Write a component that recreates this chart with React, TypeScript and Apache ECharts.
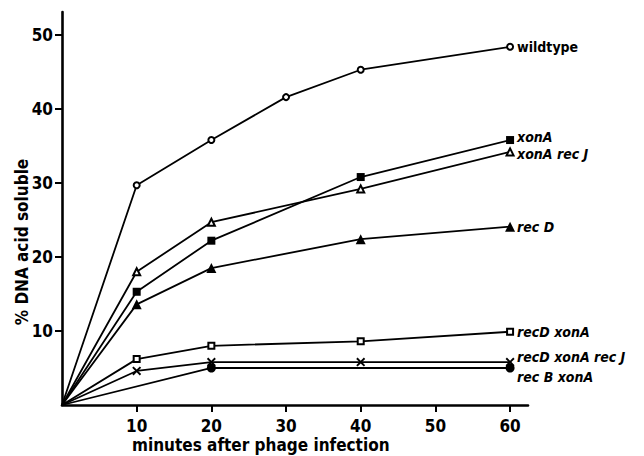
import React, { useEffect, useRef } from "react";
import * as echarts from "echarts";

const seriesNames = ["wildtype", "xonA", "xonA rec J", "rec D", "recD xonA", "recD xonA rec J", "rec B xonA"];
const wildtypeTimes = [0, 10, 20, 30, 40, 60];
const commonTimes = [0, 10, 20, 40, 60];
const recBTimes = [0, 20, 60];
const wildtypeValues = [0, 29.7, 35.8, 41.6, 45.3, 48.4];
const xonAValues = [0, 15.3, 22.2, 30.8, 35.8];
const xonARecJValues = [0, 18.0, 24.7, 29.2, 34.2];
const recDValues = [0, 13.6, 18.5, 22.4, 24.1];
const recDxonAValues = [0, 6.2, 8.0, 8.6, 9.9];
const recDxonARecJValues = [0, 4.6, 5.8, 5.8, 5.8];
const recBxonAValues = [0, 5.0, 5.0];
const xTicks = [10, 20, 30, 40, 50, 60];
const yTicks = [10, 20, 30, 40, 50];

const FONT = "'DejaVu Sans Condensed', 'DejaVu Sans', sans-serif";
const CROSS = "path://M1.5,0 L5,3.5 L8.5,0 L10,1.5 L6.5,5 L10,8.5 L8.5,10 L5,6.5 L1.5,10 L0,8.5 L3.5,5 L0,1.5 Z";

export default function App() {
  const ref = useRef<HTMLDivElement>(null);
  useEffect(() => {
    const chart = echarts.init(ref.current!, null, { renderer: "svg" });
    const mk = (
      name: string,
      times: number[],
      vals: number[],
      symbol: string,
      size: number,
      italic: boolean,
      dy: number
    ) => ({
      name,
      type: "line",
      data: times.map((t, i) =>
        i === 0 ? { value: [t, vals[i]], symbol: "none" } : { value: [t, vals[i]] }
      ),
      symbol,
      symbolSize: size,
      showAllSymbol: true,
      lineStyle: { color: "#000", width: 1.8 },
      itemStyle: { color: "#000", borderWidth: symbol.startsWith("empty") ? 1.8 : 0 },
      endLabel: {
        show: true,
        formatter: name,
        color: "#000",
        fontFamily: FONT,
        fontSize: 14,
        fontStyle: italic ? "italic" : "normal",
        fontWeight: "bold",
        distance: 7,
        offset: [0, dy],
      },
      emphasis: { disabled: true },
      z: 3,
    });
    chart.setOption({
      animation: false,
      backgroundColor: "#fff",
      grid: { left: 62, right: 116, top: 12, bottom: 51, containLabel: false, outerBoundsMode: "none" },
      xAxis: {
        type: "value",
        min: 0,
        max: 62.4,
        interval: 10,
        splitLine: { show: false },
        axisLine: { lineStyle: { color: "#000", width: 2.6 } },
        axisTick: { show: true, length: 7, customValues: xTicks, lineStyle: { color: "#000", width: 2 } },
        axisLabel: {
          customValues: xTicks,
          color: "#000",
          fontFamily: FONT,
          fontSize: 17,
          fontWeight: "bold",
          margin: 12,
        },
      },
      yAxis: {
        type: "value",
        min: 0,
        max: 53.1,
        interval: 10,
        splitLine: { show: false },
        axisLine: { lineStyle: { color: "#000", width: 2.6 } },
        axisTick: { show: true, length: 7, customValues: yTicks, lineStyle: { color: "#000", width: 2 } },
        axisLabel: {
          customValues: yTicks,
          color: "#000",
          fontFamily: FONT,
          fontSize: 17,
          fontWeight: "bold",
          margin: 9,
        },
      },
      graphic: [
        {
          type: "text",
          left: 132,
          top: 436,
          style: { text: "minutes after phage infection", fill: "#000", font: `bold 17px ${FONT}` },
        },
        {
          type: "text",
          x: 22,
          y: 242,
          rotation: Math.PI / 2,
          style: {
            text: "% DNA acid soluble",
            fill: "#000",
            font: `bold 17px ${FONT}`,
            align: "center",
            verticalAlign: "middle",
          },
        },
      ],
      series: [
        mk(seriesNames[0], wildtypeTimes, wildtypeValues, "emptyCircle", 6, false, 0),
        mk(seriesNames[1], commonTimes, xonAValues, "rect", 8, true, -3),
        mk(seriesNames[2], commonTimes, xonARecJValues, "emptyTriangle", 7, true, 2),
        mk(seriesNames[3], commonTimes, recDValues, "triangle", 10, true, 0),
        mk(seriesNames[4], commonTimes, recDxonAValues, "emptyRect", 6, true, 0),
        mk(seriesNames[5], commonTimes, recDxonARecJValues, CROSS, 9, true, -5),
        mk(seriesNames[6], recBTimes, recBxonAValues, "circle", 9, true, 9),
      ],
    });
    return () => chart.dispose();
  }, []);
  return <div ref={ref} style={{ width: 644, height: 456, position: "absolute", left: 0, top: 0 }} />;
}
